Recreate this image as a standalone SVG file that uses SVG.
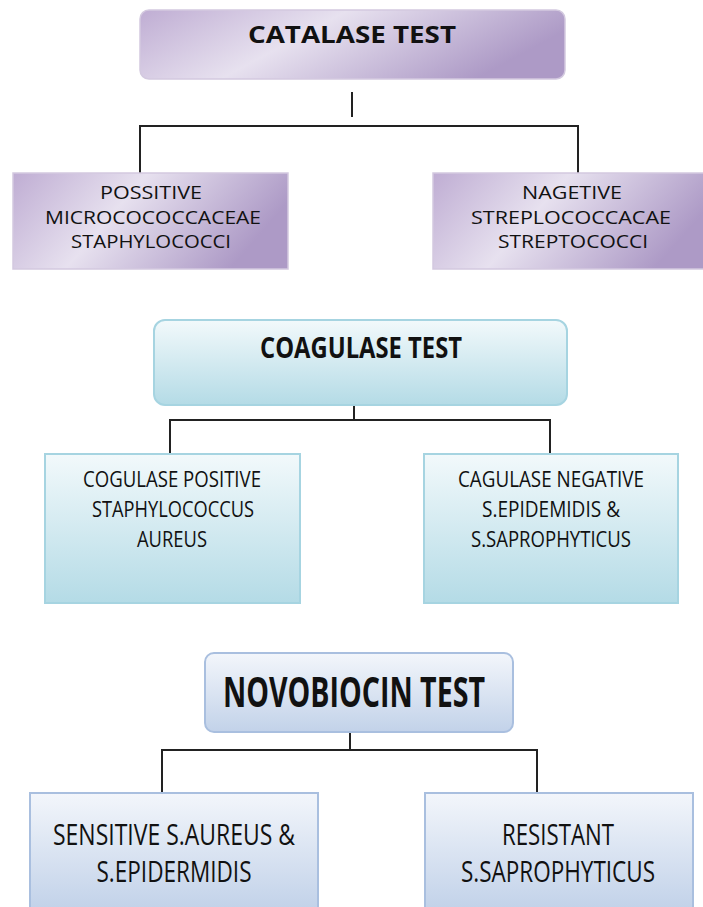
<svg xmlns="http://www.w3.org/2000/svg" width="703" height="907" viewBox="0 0 703 907">
<defs>
<linearGradient id="gPurple" x1="0" y1="0" x2="1" y2="0.3">
<stop offset="0" stop-color="#bfadd3"/>
<stop offset="0.45" stop-color="#e7e1ef"/>
<stop offset="1" stop-color="#ad9ac6"/>
</linearGradient>
<linearGradient id="gCyan" x1="0" y1="0" x2="0" y2="1">
<stop offset="0" stop-color="#f2f9fb"/>
<stop offset="1" stop-color="#b4dbe6"/>
</linearGradient>
<linearGradient id="gBlue" x1="0" y1="0" x2="0" y2="1">
<stop offset="0" stop-color="#f3f6fb"/>
<stop offset="1" stop-color="#c2d2e9"/>
</linearGradient>
</defs>
<style>
.purple{fill:url(#gPurple);stroke:#d3c9df;stroke-width:1.5}
.cyan{fill:url(#gCyan);stroke:#a6d4e1;stroke-width:2}
.blue{fill:url(#gBlue);stroke:#a9bfdf;stroke-width:2}
text{font-family:"Open Sans","Liberation Sans",sans-serif;fill:#111;text-anchor:middle}
.b{font-weight:bold}
.conn line,.conn polyline{stroke:#222;stroke-width:2;fill:none}
</style>

<g class="conn" id="connectors">
<line x1="352" y1="92" x2="352" y2="117"/>
<polyline points="140,173 140,126 578,126 578,173"/>
<line x1="354" y1="405" x2="354" y2="420"/>
<polyline points="170,454 170,420 550,420 550,454"/>
<line x1="350" y1="732" x2="350" y2="750"/>
<polyline points="162,793 162,750 537,750 537,793"/>
</g>

<g id="catalase">
<rect class="purple" x="140" y="10" width="425" height="69" rx="9"/>
<text class="b" x="352" y="43" font-size="23" textLength="208" lengthAdjust="spacingAndGlyphs">CATALASE TEST</text>
</g>
<g id="catalase-positive">
<rect class="purple" x="13" y="173" width="275" height="96"/>
<text x="151" y="199" font-size="18" textLength="102" lengthAdjust="spacingAndGlyphs">POSSITIVE</text>
<text x="153" y="224" font-size="18" textLength="216" lengthAdjust="spacingAndGlyphs">MICROCOCOCCACEAE</text>
<text x="151" y="248" font-size="18" textLength="160" lengthAdjust="spacingAndGlyphs">STAPHYLOCOCCI</text>
</g>
<g id="catalase-negative">
<rect class="purple" x="433" y="173" width="280" height="96"/>
<text x="572" y="199" font-size="18" textLength="100" lengthAdjust="spacingAndGlyphs">NAGETIVE</text>
<text x="571" y="224" font-size="18" textLength="200" lengthAdjust="spacingAndGlyphs">STREPLOCOCCACAE</text>
<text x="573" y="248" font-size="18" textLength="150" lengthAdjust="spacingAndGlyphs">STREPTOCOCCI</text>
</g>

<g id="coagulase">
<rect class="cyan" x="154" y="320" width="413" height="85" rx="11"/>
<text class="b" x="361" y="358" font-size="28" textLength="202" lengthAdjust="spacingAndGlyphs">COAGULASE TEST</text>
</g>
<g id="coagulase-positive">
<rect class="cyan" x="45" y="454" width="255" height="149"/>
<text x="172" y="487" font-size="21" textLength="178" lengthAdjust="spacingAndGlyphs">COGULASE POSITIVE</text>
<text x="173" y="517" font-size="21" textLength="162" lengthAdjust="spacingAndGlyphs">STAPHYLOCOCCUS</text>
<text x="172" y="547" font-size="21" textLength="70" lengthAdjust="spacingAndGlyphs">AUREUS</text>
</g>
<g id="coagulase-negative">
<rect class="cyan" x="424" y="454" width="254" height="149"/>
<text x="551" y="487" font-size="21" textLength="186" lengthAdjust="spacingAndGlyphs">CAGULASE NEGATIVE</text>
<text x="551" y="517" font-size="21" textLength="138" lengthAdjust="spacingAndGlyphs">S.EPIDEMIDIS &amp;</text>
<text x="551" y="547" font-size="21" textLength="160" lengthAdjust="spacingAndGlyphs">S.SAPROPHYTICUS</text>
</g>

<g id="novobiocin">
<rect class="blue" x="205" y="653" width="308" height="79" rx="9"/>
<text class="b" x="354" y="707" font-size="41" textLength="262" lengthAdjust="spacingAndGlyphs">NOVOBIOCIN TEST</text>
</g>
<g id="novobiocin-sensitive">
<rect class="blue" x="30" y="793" width="288" height="116"/>
<text x="174" y="845" font-size="30" textLength="242" lengthAdjust="spacingAndGlyphs">SENSITIVE S.AUREUS &amp;</text>
<text x="174" y="882" font-size="30" textLength="155" lengthAdjust="spacingAndGlyphs">S.EPIDERMIDIS</text>
</g>
<g id="novobiocin-resistant">
<rect class="blue" x="425" y="793" width="268" height="116"/>
<text x="558" y="845" font-size="30" textLength="112" lengthAdjust="spacingAndGlyphs">RESISTANT</text>
<text x="558" y="882" font-size="30" textLength="194" lengthAdjust="spacingAndGlyphs">S.SAPROPHYTICUS</text>
</g>
</svg>
